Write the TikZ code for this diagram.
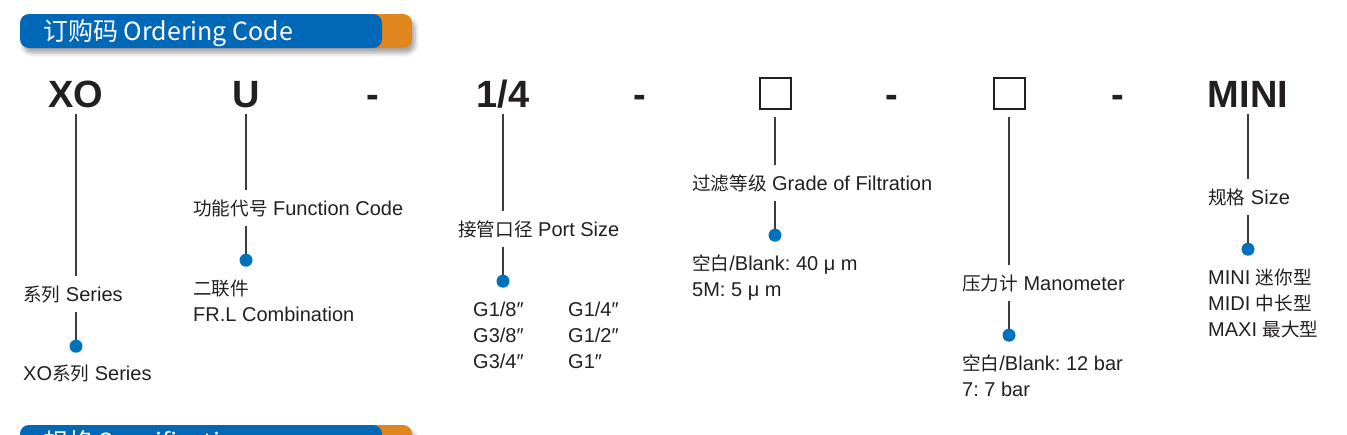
\documentclass[tikz,border=0pt]{standalone}
\usepackage{fontspec}
\setmainfont{Liberation Sans}
\newfontfamily\cjk[Scale=0.93]{Noto Sans CJK SC}
\newfontfamily\hdrfont{Noto Sans CJK SC}
\usetikzlibrary{shadows.blur}
\definecolor{barblue}{HTML}{0068B7}
\definecolor{barorange}{HTML}{E1861C}
\definecolor{dotblue}{HTML}{0071BC}
\definecolor{ink}{HTML}{231F20}
\definecolor{linegrey}{HTML}{3C3C3C}
\newcommand{\zh}[1]{{\cjk #1}}
\frenchspacing

\begin{document}
\begin{tikzpicture}[x=1pt,y=-1pt,
	code/.style={font=\fontsize{38}{40}\selectfont\bfseries,text=ink,inner sep=0pt,
		text height=27pt,text depth=0pt,anchor=base},
	blank/.style={draw=ink,line width=2pt,minimum size=31pt,inner sep=0pt},
	lbl/.style={font=\fontsize{20}{26}\selectfont,text=ink,inner sep=0pt,
		text height=16pt,text depth=4pt,anchor=base west},
	opt/.style={font=\fontsize{20}{26}\selectfont,text=ink,inner sep=0pt,
		align=left,anchor=base west},
	dot/.style={circle,fill=dotblue,minimum size=13pt,inner sep=0pt},
	stem/.style={draw=linegrey,line width=1.5pt},
	hdr/.style={font=\hdrfont\fontsize{25}{28}\selectfont,text=white,inner sep=0pt,anchor=base west},
	barshadow/.style={rounded corners=9pt,blur shadow={shadow xshift=3pt,shadow yshift=-5pt,
		shadow opacity=35,shadow blur radius=4pt}}]
	\useasboundingbox (0,0) rectangle (1347,434);
	\clip (0,0) rectangle (1347,434);

	% title bars
	\foreach \y/\t in {14/{订购码 Ordering Code},425/{规格 Specification}}{
		\path[barshadow] (20,\y) rectangle (412,\y+34);
		\fill[barorange,rounded corners=9pt] (360,\y) rectangle (412,\y+34);
		\fill[barblue,rounded corners=9pt] (20,\y) rectangle (382,\y+34);
		\node[hdr] (hdr\y) at (43,\y+26) {\t};
	}

	% ordering code
	\node[code] (xo) at (76,107) {XO};
	\node[code] (u) at (246,107) {U};
	\node[code] (dash1) at (373,107) {-};
	\node[code] (port) at (503,107) {1/4};
	\node[code] (dash2) at (640,107) {-};
	\node[blank] (grade) at (775,93) {};
	\node[code] (dash3) at (892,107) {-};
	\node[blank] (mano) at (1009,93) {};
	\node[code] (dash4) at (1118,107) {-};
	\node[code] (size) at (1248,107) {MINI};

	% labels
	\node[lbl] (lseries) at (23,301) {\zh{系列} Series};
	\node[lbl] (lfunc) at (193,215) {\zh{功能代号} Function Code};
	\node[lbl] (lport) at (458,236) {\zh{接管口径} Port Size};
	\node[lbl] (lgrade) at (692,190) {\zh{过滤等级} Grade of Filtration};
	\node[lbl] (lmano) at (962,290) {\zh{压力计} Manometer};
	\node[lbl] (lsize) at (1208,204) {\zh{规格} Size};

	\foreach \c/\l in {xo/lseries,u/lfunc,port/lport,grade/lgrade,mano/lmano,size/lsize}{
		\draw[stem,shorten <=7pt,shorten >=9pt] (\c.south) -- (\c |- \l.north);
		\node[dot] (d\c) at ([yshift=-41pt]\c |- \l.south) {};
		\draw[stem,shorten <=6.5pt] (\c |- \l.south) -- (d\c);
	}

	% options (base = last line)
	\node[opt] (oseries) at (23,380) {XO\zh{系列} Series};
	\node[opt] (ofunc) at (193,321) {\zh{二联件}\\FR.L Combination};
	\node[opt] (oportl) at (473,368) {G1/8″\\G3/8″\\G3/4″};
	\node[opt] (oportr) at (568,368) {G1/4″\\G1/2″\\G1″};
	\node[opt] (ograde) at (692,296) {\zh{空白}/Blank: 40 μ m\\5M: 5 μ m};
	\node[opt] (omano) at (962,396) {\zh{空白}/Blank: 12 bar\\7: 7 bar};
	\node[opt] (osize) at (1208,336) {MINI \zh{迷你型}\\MIDI \zh{中长型}\\MAXI \zh{最大型}};
\end{tikzpicture}
\end{document}
